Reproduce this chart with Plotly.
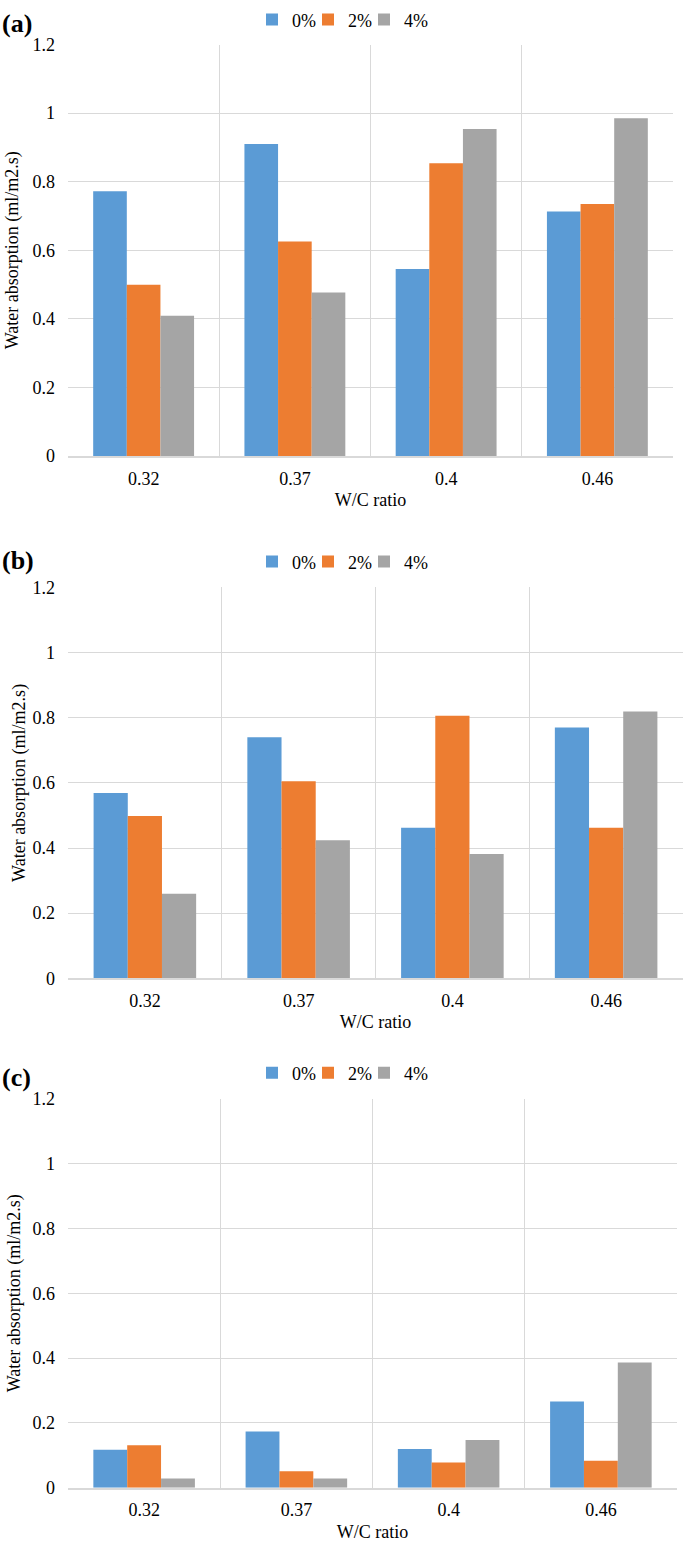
import plotly.graph_objects as go

categories = ["0.32", "0.37", "0.4", "0.46"]
series_names = ["0%", "2%", "4%"]
colors = ["#5B9BD5", "#ED7D31", "#A5A5A5"]

# Panel (a)
a_0 = [0.772, 0.910, 0.546, 0.713]
a_2 = [0.500, 0.626, 0.854, 0.735]
a_4 = [0.409, 0.477, 0.954, 0.985]
# Panel (b)
b_0 = [0.569, 0.740, 0.462, 0.770]
b_2 = [0.498, 0.605, 0.806, 0.462]
b_4 = [0.260, 0.424, 0.382, 0.819]
# Panel (c)
c_0 = [0.117, 0.173, 0.119, 0.266]
c_2 = [0.131, 0.051, 0.078, 0.083]
c_4 = [0.028, 0.028, 0.147, 0.386]

panel_labels = ["(a)", "(b)", "(c)"]
y_title = "Water absorption (ml/m2.s)"
x_title = "W/C ratio"
y_ticks = [0, 0.2, 0.4, 0.6, 0.8, 1, 1.2]

W, H = 685, 1549
FONT = "Liberation Serif, Times New Roman, serif"

# left edge (px) of each legend entry box
legend_left = [252, 308, 364]

panels = [
    dict(data=[a_0, a_2, a_4], x=(68, 673), y=(35, 452), leg_y=10, lab_y=14, ystand=9),
    dict(data=[b_0, b_2, b_4], x=(68, 683), y=(585, 981), leg_y=559, lab_y=558, ystand=2),
    dict(data=[c_0, c_2, c_4], x=(68, 677), y=(1103, 1497), leg_y=1077, lab_y=1081, ystand=7),
]

fig = go.Figure()
layout = dict(
    width=W, height=H,
    margin=dict(l=0, r=0, t=0, b=0),
    paper_bgcolor="white", plot_bgcolor="white",
    barmode="group", bargap=0.333, bargroupgap=0,
    font=dict(family=FONT, size=18, color="black"),
    annotations=[],
)

for i, p in enumerate(panels):
    sfx = "" if i == 0 else str(i + 1)
    xa, ya = "x" + sfx, "y" + sfx
    for s, (name, col) in enumerate(zip(series_names, colors)):
        n = i * 3 + s + 1
        leg = "legend" if n == 1 else "legend%d" % n
        fig.add_trace(go.Bar(
            x=categories, y=p["data"][s], name=name,
            marker=dict(color=col, line=dict(width=0)),
            xaxis=xa, yaxis=ya, legend=leg, showlegend=True,
        ))
        layout[leg] = dict(
            orientation="h", x=legend_left[s] / W, xanchor="left",
            y=1 - p["leg_y"] / H, yanchor="middle",
            font=dict(family=FONT, size=18, color="black"),
            bgcolor="rgba(0,0,0,0)", borderwidth=0, itemwidth=30,
        )
    x0, x1 = p["x"]
    y0, y1 = p["y"]
    layout["xaxis" + sfx] = dict(
        domain=[x0 / W, x1 / W], anchor=ya, type="category",
        tickson="boundaries", showgrid=True, gridcolor="#d9d9d9", gridwidth=1,
        showline=True, linecolor="#d9d9d9", linewidth=1.5, ticks="",
        tickfont=dict(family=FONT, size=18, color="black"), ticklabelstandoff=5,
        title=dict(text=x_title, font=dict(family=FONT, size=18, color="black"), standoff=6),
        zeroline=False, fixedrange=True,
    )
    layout["yaxis" + sfx] = dict(
        domain=[1 - y1 / H, 1 - y0 / H], anchor=xa, range=[0, 1.2],
        tickvals=y_ticks, ticktext=[("%g" % v) for v in y_ticks],
        showgrid=True, gridcolor="#d9d9d9", gridwidth=1,
        showline=False, zeroline=False, ticks="",
        tickfont=dict(family=FONT, size=18, color="black"), ticklabelstandoff=12,
        title=dict(text=y_title, font=dict(family=FONT, size=18, color="black"), standoff=p["ystand"]),
        fixedrange=True,
    )
    layout["annotations"].append(dict(
        text="<b>" + panel_labels[i] + "</b>", xref="paper", yref="paper",
        x=0, y=1 - p["lab_y"] / H, xanchor="left", yanchor="middle",
        showarrow=False, font=dict(family=FONT, size=26, color="black"),
    ))

fig.update_layout(**layout)
fig.write_html(
    "out.html",
    config={"displayModeBar": False},
    post_script="document.body.style.margin='0';document.body.style.overflow='hidden';",
)
